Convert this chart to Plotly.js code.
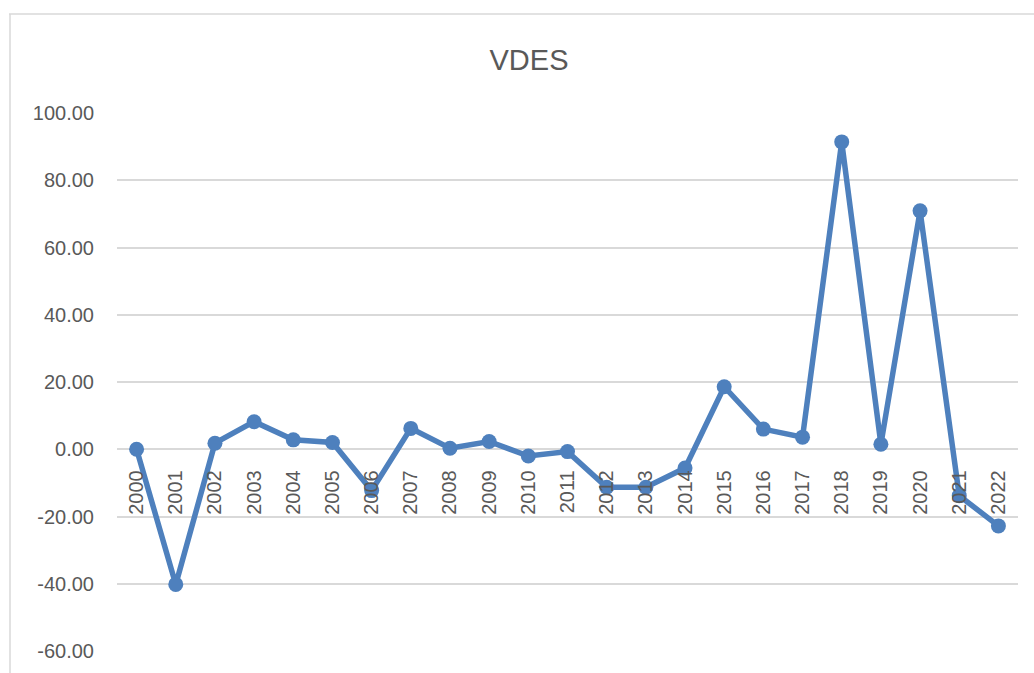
<!DOCTYPE html>
<html>
<head>
<meta charset="utf-8">
<script src="https://cdn.plot.ly/plotly-3.0.1.min.js"></script>
<style>
  html, body { margin: 0; padding: 0; background: #ffffff; }
  #chart { width: 1034px; height: 673px; }
</style>
</head>
<body>
<div id="chart"></div>
<script>
// ---- data ----
const years = ["2000","2001","2002","2003","2004","2005","2006","2007","2008","2009","2010","2011",
               "2012","2013","2014","2015","2016","2017","2018","2019","2020","2021","2022"];
const vdes = [0.0, -40.2, 1.8, 8.2, 2.8, 2.0, -12.3, 6.2, 0.3, 2.3, -2.0, -0.7,
              -11.3, -11.3, -5.6, 18.6, 6.0, 3.6, 91.4, 1.5, 70.9, -13.8, -22.8];
const yTickVals = [-60, -40, -20, 0, 20, 40, 60, 80, 100];
const yTickText = ["-60.00", "-40.00", "-20.00", "0.00", "20.00", "40.00", "60.00", "80.00", "100.00"];
const chartTitle = "VDES";

// ---- layout helpers ----
const W = 1034, H = 673;
const mL = 117, mR = 16, mT = 113, mB = 22;
const plotW = W - mL - mR, plotH = H - mT - mB;
const yMin = -60, yMax = 100;
const px = (x) => (x - mL) / plotW;          // page px -> paper x
const py = (y) => (H - mB - y) / plotH;      // page px -> paper y
const borderColor = "#d9d9d9";

const trace = {
  x: years,
  y: vdes,
  type: "scatter",
  mode: "lines+markers",
  line: { color: "#4e80bd", width: 5.5 },
  marker: { color: "#4e80bd", size: 15 },
  hoverinfo: "x+y"
};

const layout = {
  width: W,
  height: H,
  margin: { l: mL, r: mR, t: mT, b: mB, pad: 0 },
  paper_bgcolor: "#ffffff",
  plot_bgcolor: "#ffffff",
  showlegend: false,
  font: { family: "Liberation Sans, Arial, sans-serif", color: "#595959", size: 20 },
  title: {
    text: chartTitle,
    font: { family: "Liberation Sans, Arial, sans-serif", size: 29, color: "#595959" },
    xref: "container", yref: "container",
    x: 529 / W, xanchor: "center",
    y: 1 - 60 / H, yanchor: "middle"
  },
  xaxis: {
    type: "category",
    range: [-0.5, years.length - 0.5],
    anchor: "free",
    position: (0 - yMin) / (yMax - yMin),
    showgrid: false,
    zeroline: false,
    showline: false,
    ticks: "",
    tickangle: -90,
    ticklabelstandoff: 16,
    tickfont: { size: 20, color: "#595959" },
    fixedrange: true
  },
  yaxis: {
    range: [yMin, yMax],
    tickvals: yTickVals,
    ticktext: yTickText,
    showgrid: true,
    gridcolor: "#d9d9d9",
    gridwidth: 2,
    zeroline: false,
    showline: false,
    ticks: "",
    ticklabelstandoff: 22,
    tickfont: { size: 20, color: "#595959" },
    fixedrange: true
  },
  shapes: [
    { type: "line", xref: "paper", yref: "paper", layer: "below",
      x0: px(10), x1: px(10), y0: py(14), y1: py(H + 2),
      line: { color: borderColor, width: 1.5 } },
    { type: "line", xref: "paper", yref: "paper", layer: "below",
      x0: px(9), x1: px(W + 2), y0: py(14), y1: py(14),
      line: { color: borderColor, width: 1.5 } }
  ]
};

Plotly.newPlot("chart", [trace], layout, { displayModeBar: false, staticPlot: true });
</script>
</body>
</html>
